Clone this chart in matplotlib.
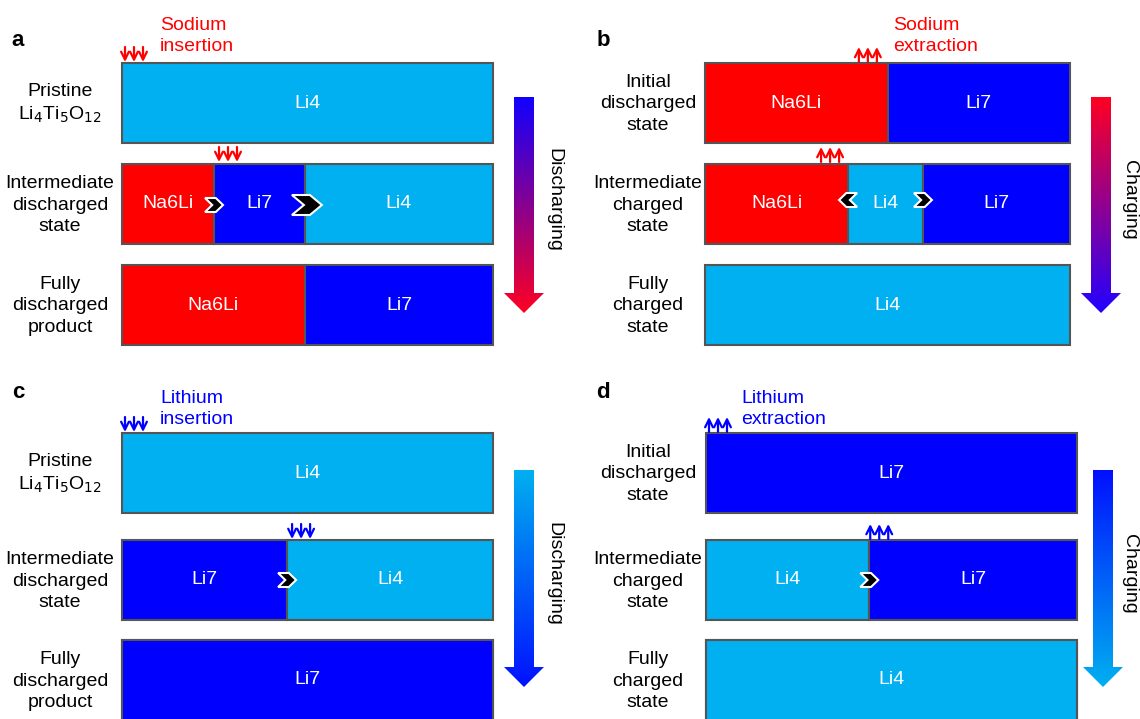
import numpy as np
import matplotlib
matplotlib.use('Agg')
import matplotlib.pyplot as plt
from matplotlib.patches import Rectangle, Polygon
from matplotlib.colors import to_rgb

plt.rcParams['font.family'] = ['Liberation Sans', 'DejaVu Sans']

# phase colours
COL = {'Li4': '#00B0F0', 'Li7': '#0000FF', 'Na6Li': '#FF0000'}
RED = '#FF0000'
BLUE = '#0000FF'

# panel a: sodium insertion (discharge)
a_states = ['Pristine\nLi$_4$Ti$_5$O$_{12}$', 'Intermediate\ndischarged\nstate', 'Fully\ndischarged\nproduct']
a_phases = [['Li4'], ['Na6Li', 'Li7', 'Li4'], ['Na6Li', 'Li7']]
a_fracs = [[1.0], [0.248, 0.245, 0.507], [0.493, 0.507]]

# panel b: sodium extraction (charge)
b_states = ['Initial\ndischarged\nstate', 'Intermediate\ncharged\nstate', 'Fully\ncharged\nstate']
b_phases = [['Na6Li', 'Li7'], ['Na6Li', 'Li4', 'Li7'], ['Li4']]
b_fracs = [[0.501, 0.499], [0.392, 0.205, 0.403], [1.0]]

# panel c: lithium insertion (discharge)
c_states = ['Pristine\nLi$_4$Ti$_5$O$_{12}$', 'Intermediate\ndischarged\nstate', 'Fully\ndischarged\nproduct']
c_phases = [['Li4'], ['Li7', 'Li4'], ['Li7']]
c_fracs = [[1.0], [0.445, 0.555], [1.0]]

# panel d: lithium extraction (charge)
d_states = ['Initial\ndischarged\nstate', 'Intermediate\ncharged\nstate', 'Fully\ncharged\nstate']
d_phases = [['Li7'], ['Li4', 'Li7'], ['Li4']]
d_fracs = [[1.0], [0.44, 0.56], [1.0]]

FS = 14

fig = plt.figure(figsize=(11.4, 7.19), dpi=100)
ax = fig.add_axes([0, 0, 1, 1])
ax.set_xlim(0, 1140)
ax.set_ylim(719, 0)
ax.axis('off')


def draw_rows(x0, width, tops, height, phases, fracs, states, label_x):
    bounds = []
    for top, ph, fr, st in zip(tops, phases, fracs, states):
        x = x0
        edges = []
        for p, f in zip(ph, fr):
            w = f * width
            ax.add_patch(Rectangle((x, top), w, height, facecolor=COL[p],
                                   edgecolor='#555555', lw=1.5, zorder=2))
            ax.text(x + w / 2, top + height / 2, p, color='white', fontsize=FS,
                    ha='center', va='center', zorder=3)
            x += w
            edges.append(x)
        ax.text(label_x, top + height / 2 + 1, st, fontsize=FS, ha='center',
                va='center', linespacing=1.33)
        bounds.append(edges)
    return bounds


def triple_arrows(x0, base, up, color):
    for i in range(3):
        x = x0 + 5 + i * 9
        if up:
            xy, xyt = (x, base - 15), (x, base)
        else:
            xy, xyt = (x, base), (x, base - 15)
        ax.annotate('', xy=xy, xytext=xyt, zorder=4,
                    arrowprops=dict(arrowstyle='->', color=color, lw=1.6,
                                    mutation_scale=14, shrinkA=0, shrinkB=0))


def chevron(xc, yc, w, h, right=True):
    s = 1 if right else -1
    pts = [(-w / 2, -h / 2), (w * 0.1, -h / 2), (w / 2, 0), (w * 0.1, h / 2),
           (-w / 2, h / 2), (-w * 0.1, 0)]
    pts = [(xc + s * px, yc + py) for px, py in pts]
    ax.add_patch(Polygon(pts, closed=True, facecolor='black', edgecolor='white',
                         lw=1.5, zorder=5))


def grad_arrow(xc, top, tip, c_top, c_bot, label, tx):
    sw, hw, hl = 10, 20, 20
    pts = [(xc - sw, top), (xc + sw, top), (xc + sw, tip - hl), (xc + hw, tip - hl),
           (xc, tip), (xc - hw, tip - hl), (xc - sw, tip - hl)]
    poly = Polygon(pts, closed=True, facecolor='none', edgecolor='none')
    ax.add_patch(poly)
    t = np.linspace(0, 1, 256)[:, None, None]
    grad = (1 - t) * np.array(to_rgb(c_top)) + t * np.array(to_rgb(c_bot))
    im = ax.imshow(grad, extent=(xc - hw, xc + hw, tip, top), origin='upper',
                   aspect='auto', zorder=1)
    im.set_clip_path(poly)
    ax.text(tx, (top + tip) / 2 - 5, label, rotation=-90, fontsize=FS,
            ha='center', va='center')


# panel a
ea = draw_rows(122, 371, [63, 164, 265], 80, a_phases, a_fracs, a_states, 60)
triple_arrows(120, 62, False, RED)
triple_arrows(ea[1][0], 162, False, RED)
chevron(ea[1][0], 205, 18, 14)
chevron(ea[1][1] + 2, 205, 30, 20)
ax.text(160, 36, 'Sodium\ninsertion', color=RED, fontsize=FS, va='center',
        linespacing=1.3)
grad_arrow(524, 97, 313, '#1000FF', '#FF0022', 'Discharging', 554)

# panel b
eb = draw_rows(705, 365, [63, 164, 265], 80, b_phases, b_fracs, b_states, 648)
triple_arrows(eb[0][0] - 34, 62, True, RED)
triple_arrows(eb[1][0] - 32, 162, True, RED)
chevron(eb[1][0], 200, 18, 14, right=False)
chevron(eb[1][1], 200, 18, 14)
ax.text(893, 36, 'Sodium\nextraction', color=RED, fontsize=FS, va='center',
        linespacing=1.3)
grad_arrow(1101, 97, 313, '#FF0022', '#2200FF', 'Charging', 1129)

# panel c
ec = draw_rows(122, 371, [433, 540, 640], 80, c_phases, c_fracs, c_states, 60)
ax.add_patch(Rectangle((122, 640), 371, 100, facecolor=COL['Li7'],
                       edgecolor='#555555', lw=1.5, zorder=2))
triple_arrows(120, 432, False, BLUE)
triple_arrows(ec[1][0], 539, False, BLUE)
chevron(ec[1][0], 580, 18, 14)
ax.text(160, 409, 'Lithium\ninsertion', color=BLUE, fontsize=FS, va='center',
        linespacing=1.3)
grad_arrow(524, 470, 687, '#00B0F0', '#0010FF', 'Discharging', 554)

# panel d
ed = draw_rows(706, 371, [433, 540, 640], 80, d_phases, d_fracs, d_states, 648)
ax.add_patch(Rectangle((706, 640), 371, 100, facecolor=COL['Li4'],
                       edgecolor='#555555', lw=1.5, zorder=2))
triple_arrows(704, 432, True, BLUE)
triple_arrows(ed[1][0] - 4, 539, True, BLUE)
chevron(ed[1][0], 580, 18, 14)
ax.text(741, 409, 'Lithium\nextraction', color=BLUE, fontsize=FS, va='center',
        linespacing=1.3)
grad_arrow(1103, 470, 687, '#0010FF', '#00B0F0', 'Charging', 1129)

# panel letters
for letter, x, y in [('a', 18, 40), ('b', 603, 40), ('c', 18, 393), ('d', 603, 393)]:
    ax.text(x, y, letter, fontsize=16, fontweight='bold', va='center', ha='center')

fig.savefig('out.png', dpi=100)
